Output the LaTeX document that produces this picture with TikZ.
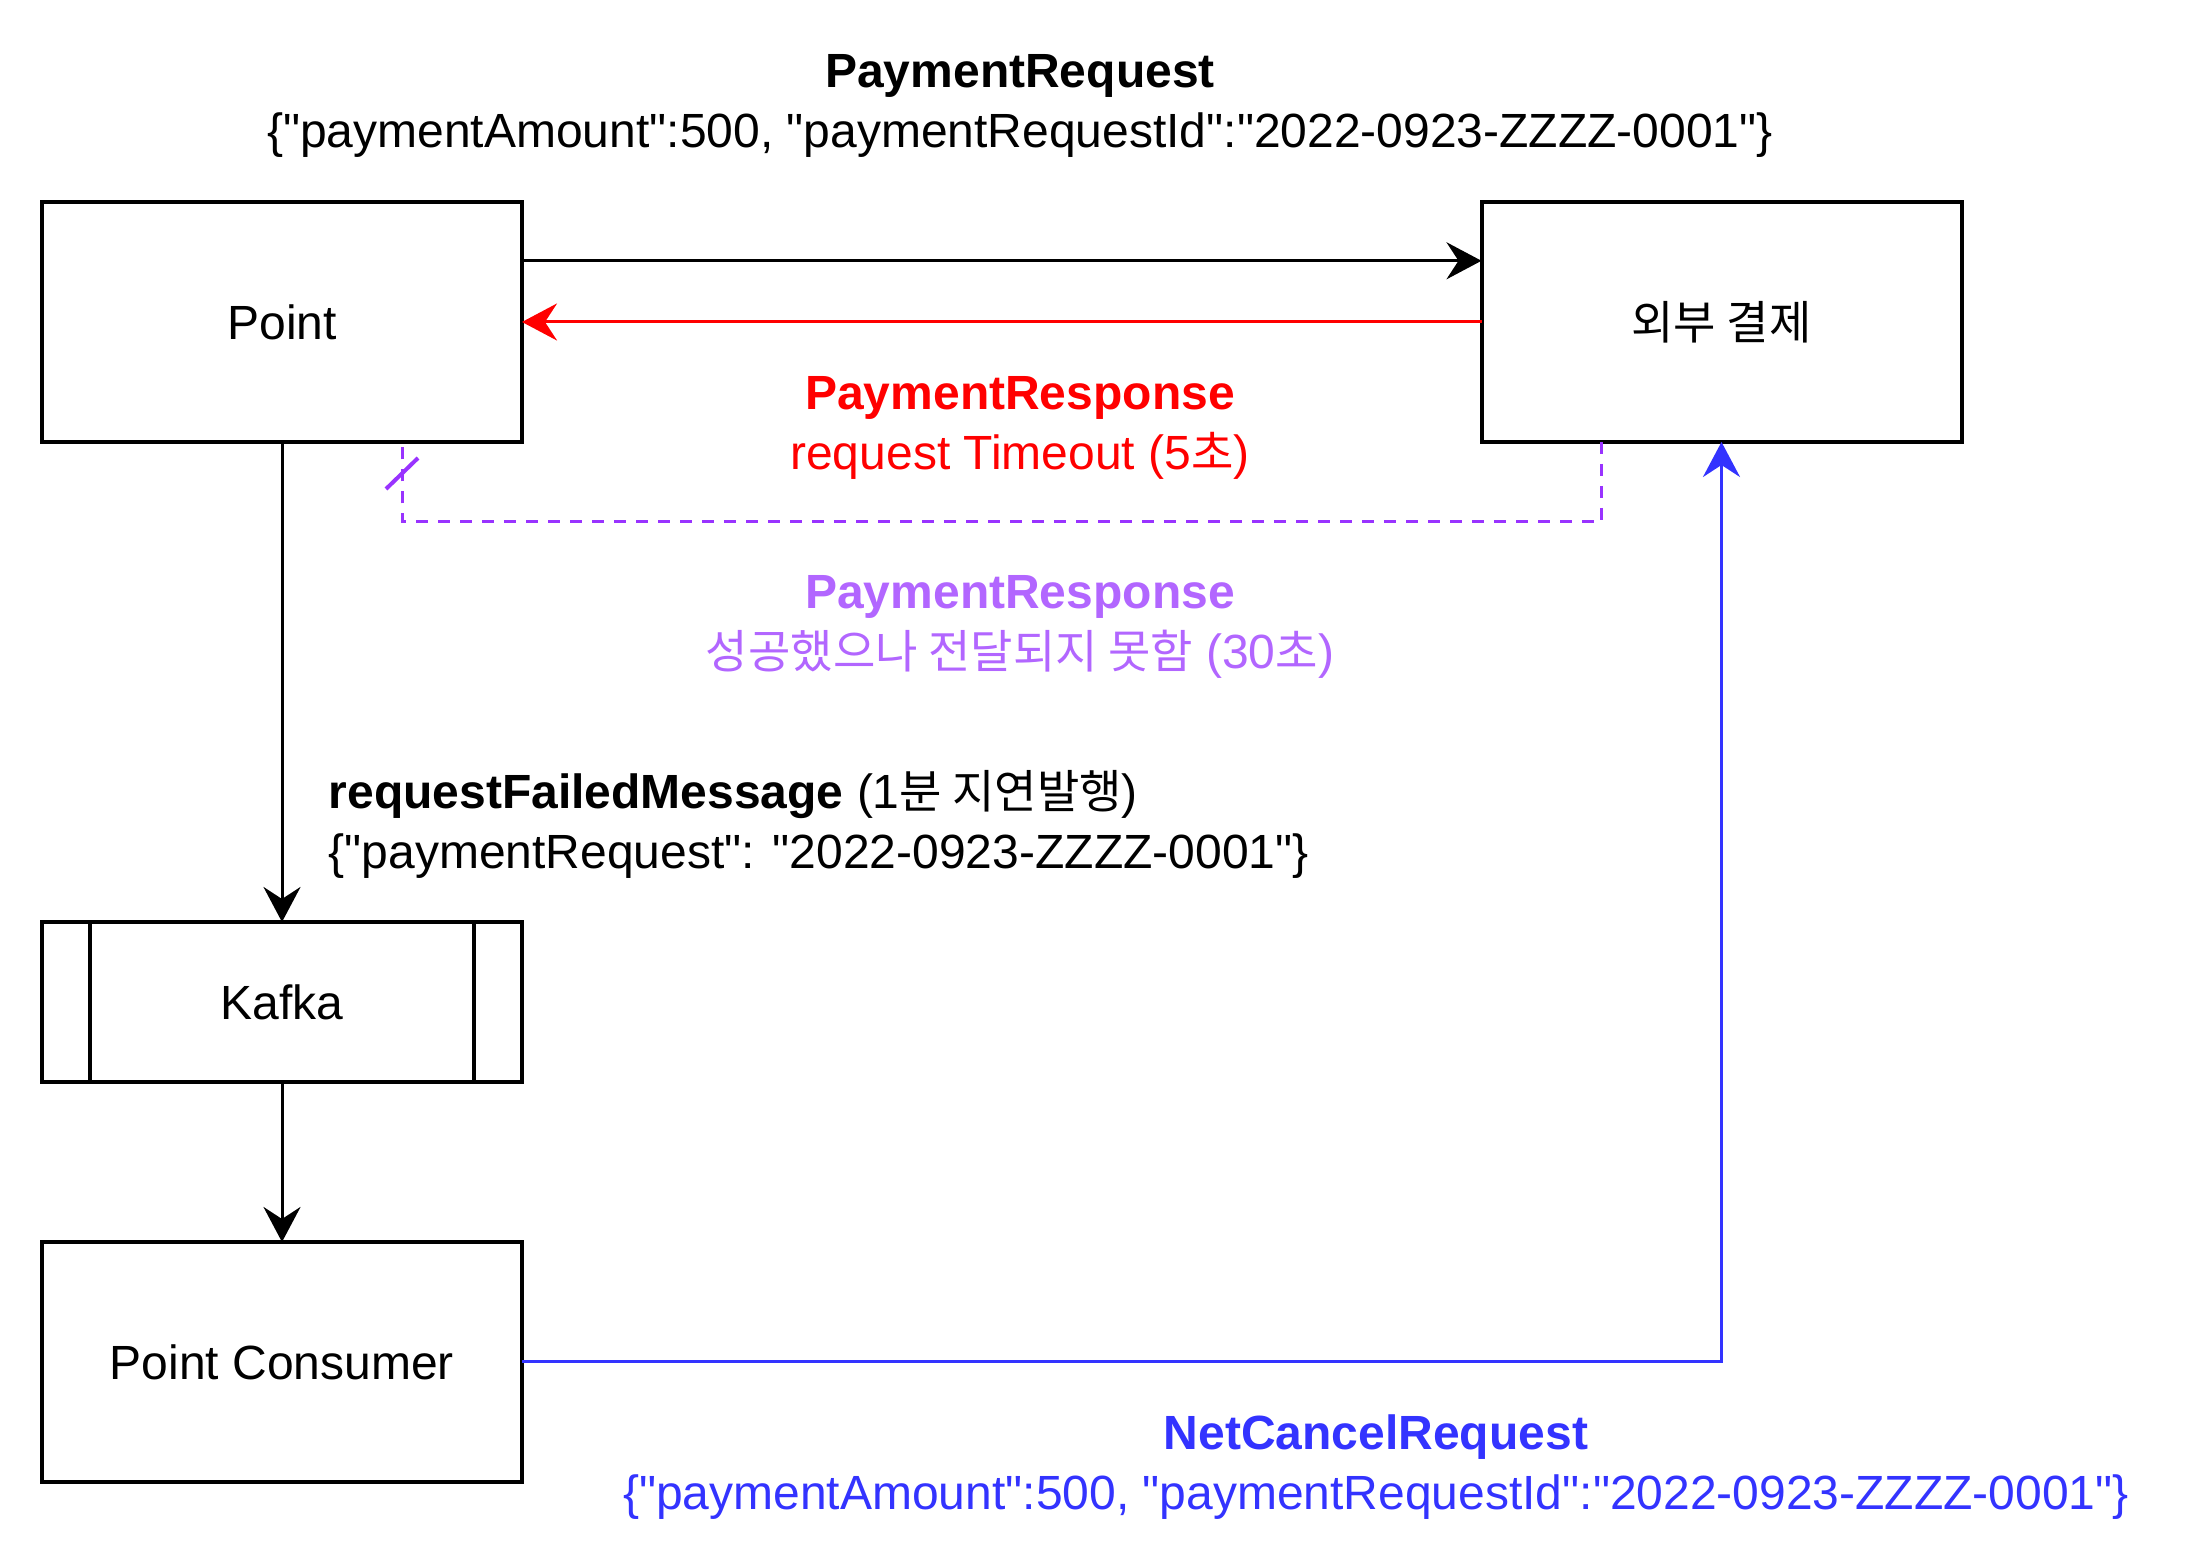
\documentclass[tikz,border=0pt]{standalone}
\usepackage{fontspec}
\setmainfont{Liberation Sans}[Ligatures=TeXOff]
\newfontfamily\kr{Noto Sans CJK KR}[Scale=0.96]
\usetikzlibrary{arrows.meta,calc}
\definecolor{myred}{HTML}{FF0000}
\definecolor{mypurple}{HTML}{9933FF}
\definecolor{mypurpletext}{HTML}{B266FF}
\definecolor{myblue}{HTML}{3333FF}
\begin{document}
\begin{tikzpicture}[x=0.25pt,y=-0.25pt,
  box/.style={draw, line width=1pt, minimum width=120pt, minimum height=60pt, inner sep=0pt, outer sep=0pt, font=\fontsize{12}{15}\selectfont},
  lbl/.style={inner sep=0pt, font=\fontsize{12}{15}\selectfont},
  tip/.style={-{Stealth[length=8.75pt, width=9.25pt, inset=3pt]}},
  conn/.style={line width=0.75pt, tip},
  dashconn/.style={line width=0.75pt, mypurple, dash pattern=on 3pt off 2.5pt}]
\useasboundingbox (0,0) rectangle (2200,1560);
\fill[white] (0,0) rectangle (2200,1560);

\node[box] (point) at (282,322) {Point};
\node[box] (ext) at (1721.5,322) {\kr 외부 결제};
\node[box, minimum height=40pt] (kafka) at (282,1002) {Kafka};
\draw[line width=1pt] ([xshift=12pt]kafka.north west) -- ([xshift=12pt]kafka.south west);
\draw[line width=1pt] ([xshift=-12pt]kafka.north east) -- ([xshift=-12pt]kafka.south east);
\node[box] (cons) at (282,1362) {Point Consumer};

% arrows
\coordinate (pa) at ($(point.north east)!0.245!(point.south east)$);
\draw[conn] (pa) -- (ext.west |- pa);
\draw[conn, myred] (ext.west) -- (point.east);
\coordinate (es) at ($(ext.south west)!0.25!(ext.south east)$);
\coordinate (pe) at ($(point.south west)!0.75!(point.south east)$);
\draw[dashconn] (es) -- ++(0,80) -| (pe);
\draw[line width=1pt, mypurple] ([shift={(-16,47)}]pe) -- ([shift={(16,16)}]pe);
\draw[conn] (point.south) -- (kafka.north);
\draw[conn] (kafka.south) -- (cons.north);
\draw[conn, myblue] (cons.east) -| (ext.south);

% labels
\node[lbl, align=center] (l1) at (1020,106) {\textbf{PaymentRequest}\\\{"paymentAmount":500, "paymentRequestId":"2022-0923-ZZZZ-0001"\}};
\node[lbl, align=center, text=myred] (l2) at (1020,428) {\textbf{PaymentResponse}\\request Timeout (5{\kr 초})};
\node[lbl, align=center, text=mypurpletext] (l3) at (1020,627) {\textbf{PaymentResponse}\\{\kr 성공했으나 전달되지 못함} (30{\kr 초})};
\node[lbl, align=left, anchor=west] (l4) at (328,824) {\textbf{requestFailedMessage} (1{\kr 분 지연발행})\\\{"paymentRequest": "2022-0923-ZZZZ-0001"\}};
\node[lbl, align=center, text=myblue] (l5) at (1376,1467) {\textbf{NetCancelRequest}\\\{"paymentAmount":500, "paymentRequestId":"2022-0923-ZZZZ-0001"\}};
\end{tikzpicture}
\end{document}
